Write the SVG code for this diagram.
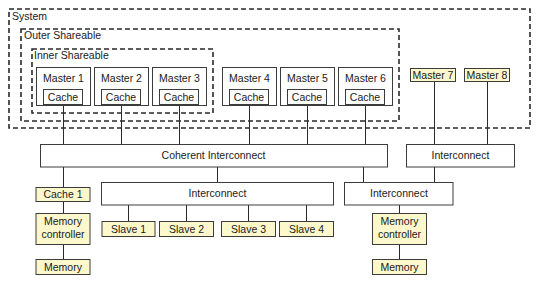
<svg xmlns="http://www.w3.org/2000/svg" width="544" height="282" viewBox="0 0 544 282">
  <style>
    text { font-family: "Liberation Sans", Arial, sans-serif; font-size: 10.5px; fill: #1a1a1a; }
    .mid { text-anchor: middle; }
    .box { fill: #ffffff; stroke: #3c3c3c; stroke-width: 1; }
    .ybox { fill: #fdf8cc; stroke: #3c3c3c; stroke-width: 1; }
    .region { fill: none; stroke: #2a2a2a; stroke-width: 1.6; stroke-dasharray: 5 3; }
    .wire { stroke: #2a2a2a; stroke-width: 1; fill: none; }
  </style>

  <!-- shareability domains -->
  <g id="system">
    <rect class="region" x="9" y="9" width="521" height="119"/>
    <text x="12" y="20">System</text>
  </g>
  <g id="outer-shareable">
    <rect class="region" x="21" y="29" width="378" height="92"/>
    <text x="24" y="39">Outer Shareable</text>
  </g>
  <g id="inner-shareable">
    <rect class="region" x="32" y="49" width="181" height="64"/>
    <text x="34" y="59">Inner Shareable</text>
  </g>

  <!-- connectors -->
  <g id="connectors">
    <line class="wire" x1="63.5" y1="105" x2="63.5" y2="144.5"/>
    <line class="wire" x1="121.5" y1="105" x2="121.5" y2="144.5"/>
    <line class="wire" x1="179.5" y1="105" x2="179.5" y2="144.5"/>
    <line class="wire" x1="249.5" y1="105" x2="249.5" y2="144.5"/>
    <line class="wire" x1="307.5" y1="105" x2="307.5" y2="144.5"/>
    <line class="wire" x1="365.5" y1="105" x2="365.5" y2="144.5"/>
    <line class="wire" x1="434.5" y1="82" x2="434.5" y2="144.5"/>
    <line class="wire" x1="487.5" y1="82" x2="487.5" y2="144.5"/>
    <line class="wire" x1="63.5" y1="167" x2="63.5" y2="187.5"/>
    <line class="wire" x1="217.5" y1="167" x2="217.5" y2="183"/>
    <line class="wire" x1="363.5" y1="167" x2="363.5" y2="183"/>
    <line class="wire" x1="434.5" y1="167" x2="434.5" y2="183"/>
    <line class="wire" x1="128.5" y1="205" x2="128.5" y2="221.5"/>
    <line class="wire" x1="186.5" y1="205" x2="186.5" y2="221.5"/>
    <line class="wire" x1="248.5" y1="205" x2="248.5" y2="221.5"/>
    <line class="wire" x1="306.5" y1="205" x2="306.5" y2="221.5"/>
    <line class="wire" x1="63.5" y1="201" x2="63.5" y2="213.5"/>
    <line class="wire" x1="63.5" y1="245" x2="63.5" y2="259.5"/>
    <line class="wire" x1="399.5" y1="205" x2="399.5" y2="213.5"/>
    <line class="wire" x1="399.5" y1="245" x2="399.5" y2="259.5"/>
  </g>

  <!-- masters with caches -->
  <g id="master1">
    <rect class="box" x="36.5" y="67.5" width="54" height="38"/>
    <text class="mid" x="63.5" y="82">Master 1</text>
    <rect class="box" x="43.5" y="89.5" width="39" height="15"/>
    <text class="mid" x="63" y="100.5">Cache</text>
  </g>
  <g id="master2">
    <rect class="box" x="94.5" y="67.5" width="54" height="38"/>
    <text class="mid" x="121.5" y="82">Master 2</text>
    <rect class="box" x="101.5" y="89.5" width="39" height="15"/>
    <text class="mid" x="121" y="100.5">Cache</text>
  </g>
  <g id="master3">
    <rect class="box" x="152.5" y="67.5" width="54" height="38"/>
    <text class="mid" x="179.5" y="82">Master 3</text>
    <rect class="box" x="159.5" y="89.5" width="39" height="15"/>
    <text class="mid" x="179" y="100.5">Cache</text>
  </g>
  <g id="master4">
    <rect class="box" x="222.5" y="67.5" width="54" height="38"/>
    <text class="mid" x="249.5" y="82">Master 4</text>
    <rect class="box" x="229.5" y="89.5" width="39" height="15"/>
    <text class="mid" x="249" y="100.5">Cache</text>
  </g>
  <g id="master5">
    <rect class="box" x="280.5" y="67.5" width="54" height="38"/>
    <text class="mid" x="307.5" y="82">Master 5</text>
    <rect class="box" x="287.5" y="89.5" width="39" height="15"/>
    <text class="mid" x="307" y="100.5">Cache</text>
  </g>
  <g id="master6">
    <rect class="box" x="338.5" y="67.5" width="54" height="38"/>
    <text class="mid" x="365.5" y="82">Master 6</text>
    <rect class="box" x="345.5" y="89.5" width="39" height="15"/>
    <text class="mid" x="365" y="100.5">Cache</text>
  </g>

  <!-- masters outside the shareable domains -->
  <g id="master7">
    <rect class="ybox" x="410.5" y="68.5" width="45" height="13"/>
    <text class="mid" x="433" y="79">Master 7</text>
  </g>
  <g id="master8">
    <rect class="ybox" x="464.5" y="68.5" width="45" height="13"/>
    <text class="mid" x="487" y="79">Master 8</text>
  </g>

  <!-- interconnects -->
  <g id="coherent-interconnect">
    <rect class="box" x="40.5" y="144.5" width="347" height="22.5"/>
    <text class="mid" x="213.5" y="159">Coherent Interconnect</text>
  </g>
  <g id="interconnect-right">
    <rect class="box" x="406.5" y="144.5" width="108" height="22.5"/>
    <text class="mid" x="460.5" y="159">Interconnect</text>
  </g>
  <g id="interconnect-slaves">
    <rect class="box" x="101.5" y="182.5" width="232" height="22.5"/>
    <text class="mid" x="217.5" y="197">Interconnect</text>
  </g>
  <g id="interconnect-memory">
    <rect class="box" x="344.5" y="182.5" width="108.5" height="22.5"/>
    <text class="mid" x="399" y="197">Interconnect</text>
  </g>

  <!-- left memory path -->
  <g id="cache1">
    <rect class="ybox" x="36" y="187.5" width="54" height="14"/>
    <text class="mid" x="63" y="198">Cache 1</text>
  </g>
  <g id="memory-controller-left">
    <rect class="ybox" x="36" y="213.5" width="54" height="31"/>
    <text class="mid" x="63" y="225">Memory</text>
    <text class="mid" x="63" y="238">controller</text>
  </g>
  <g id="memory-left">
    <rect class="ybox" x="36" y="259.5" width="54" height="15"/>
    <text class="mid" x="63" y="270.5">Memory</text>
  </g>

  <!-- slaves -->
  <g id="slave1">
    <rect class="ybox" x="102" y="221.5" width="53" height="15"/>
    <text class="mid" x="128.5" y="232.5">Slave 1</text>
  </g>
  <g id="slave2">
    <rect class="ybox" x="159.5" y="221.5" width="54" height="15"/>
    <text class="mid" x="186.5" y="232.5">Slave 2</text>
  </g>
  <g id="slave3">
    <rect class="ybox" x="221.5" y="221.5" width="54" height="15"/>
    <text class="mid" x="248.5" y="232.5">Slave 3</text>
  </g>
  <g id="slave4">
    <rect class="ybox" x="279.5" y="221.5" width="54" height="15"/>
    <text class="mid" x="306.5" y="232.5">Slave 4</text>
  </g>

  <!-- right memory path -->
  <g id="memory-controller-right">
    <rect class="ybox" x="372.5" y="213.5" width="54" height="31"/>
    <text class="mid" x="399.5" y="225">Memory</text>
    <text class="mid" x="399.5" y="238">controller</text>
  </g>
  <g id="memory-right">
    <rect class="ybox" x="372.5" y="259.5" width="54" height="15"/>
    <text class="mid" x="399.5" y="270.5">Memory</text>
  </g>
</svg>
